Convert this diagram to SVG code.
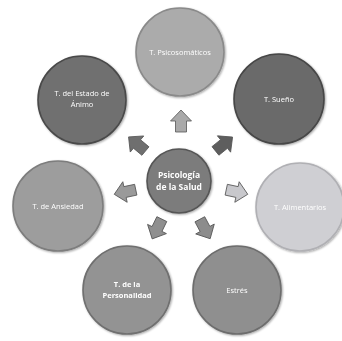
<svg xmlns="http://www.w3.org/2000/svg" width="342" height="341" viewBox="0 0 342 341">
<defs>
<style>
.c{stroke-width:1.6}
.t{font-family:"Open Sans","Liberation Sans",sans-serif;font-size:7.5px;fill:#ffffff;text-anchor:middle}
.b{font-weight:bold}
.m{font-size:8.5px}
</style>
<filter id="sh" x="-20%" y="-20%" width="140%" height="140%">
<feGaussianBlur in="SourceAlpha" stdDeviation="1.2"/>
<feOffset dx="0.5" dy="1" result="o"/>
<feComponentTransfer><feFuncA type="linear" slope="0.35"/></feComponentTransfer>
<feMerge><feMergeNode/><feMergeNode in="SourceGraphic"/></feMerge>
</filter>
<polygon id="arr" points="-11,-5.5 0,-5.5 0,-10.5 11,0 0,10.5 0,5.5 -11,5.5" stroke="#555" stroke-width="0.8"/>
</defs>
<rect width="342" height="341" fill="#ffffff"/>
<g id="connectors">
<use href="#arr" transform="translate(181,121) rotate(-90)" fill="#a9a9a9"/>
<use href="#arr" transform="translate(137,144) rotate(-140)" fill="#6f6f6f"/>
<use href="#arr" transform="translate(224,144) rotate(-39)" fill="#5e5e5e"/>
<use href="#arr" transform="translate(125,192) rotate(168)" fill="#9a9a9a"/>
<use href="#arr" transform="translate(237,192) rotate(12)" fill="#c8c8cc"/>
<use href="#arr" transform="translate(157,229) rotate(116)" fill="#8f8f8f"/>
<use href="#arr" transform="translate(205,229) rotate(62)" fill="#8c8c8c"/>
</g>
<g id="n-psicosomaticos" filter="url(#sh)">
<circle class="c" cx="180" cy="52" r="44" fill="#ababab" stroke="#8a8a8a"/>
<text class="t" x="180" y="55">T. Psicosomáticos</text>
</g>
<g id="n-estado-animo" filter="url(#sh)">
<circle class="c" cx="82" cy="100" r="44" fill="#6f6f6f" stroke="#4a4a4a"/>
<text class="t" x="82" y="96">T. del Estado de</text>
<text class="t" x="82" y="107">Ánimo</text>
</g>
<g id="n-sueno" filter="url(#sh)">
<circle class="c" cx="279" cy="99" r="45" fill="#6b6b6b" stroke="#474747"/>
<text class="t" x="279" y="102">T. Sueño</text>
</g>
<g id="n-ansiedad" filter="url(#sh)">
<circle class="c" cx="58" cy="206" r="45" fill="#9d9d9d" stroke="#7d7d7d"/>
<text class="t" x="58" y="209">T. de Ansiedad</text>
</g>
<g id="n-alimentarios" filter="url(#sh)">
<circle class="c" cx="300" cy="207" r="44" fill="#cfcfd3" stroke="#b0b0b4"/>
<text class="t" x="300" y="210">T. Alimentarios</text>
</g>
<g id="n-personalidad" filter="url(#sh)">
<circle class="c" cx="127" cy="290" r="44" fill="#939393" stroke="#6f6f6f"/>
<text class="t b" x="127" y="287">T. de la</text>
<text class="t b" x="127" y="298">Personalidad</text>
</g>
<g id="n-estres" filter="url(#sh)">
<circle class="c" cx="237" cy="290" r="44" fill="#8f8f8f" stroke="#6d6d6d"/>
<text class="t" x="237" y="293">Estrés</text>
</g>
<g id="n-centro" filter="url(#sh)">
<circle class="c" cx="179" cy="181" r="32" fill="#7b7b7b" stroke="#555555"/>
<text class="t b m" x="179" y="178">Psicología</text>
<text class="t b m" x="179" y="190">de la Salud</text>
</g>
</svg>
